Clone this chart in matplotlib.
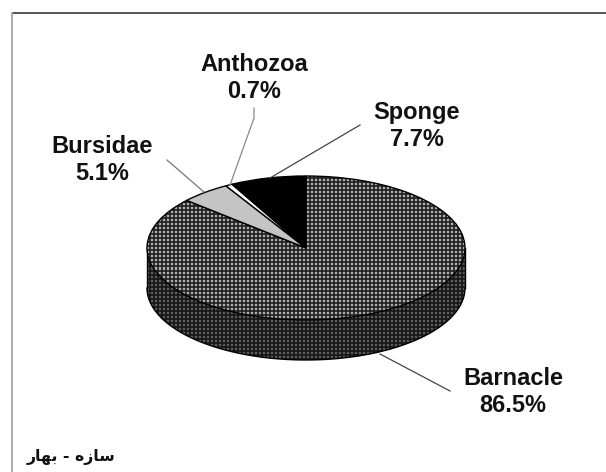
import matplotlib
matplotlib.use("Agg")
import matplotlib.pyplot as plt
from matplotlib.path import Path
from matplotlib.patches import PathPatch
import numpy as np

W, H = 606, 472

# Data
categories = ["Barnacle", "Bursidae", "Anthozoa", "Sponge"]
percents = [86.5, 5.1, 0.7, 7.7]
percent_labels = ["86.5%", "5.1%", "0.7%", "7.7%"]
# visual order presentation forms of the caption, matplotlib does no arabic shaping
caption = "\ufead\ufe8e\ufeec\ufe91 - \ufee9\ufeaf\ufe8e\ufeb3"

label_pos = [(513, 392), (102, 160), (254, 78), (417, 126)]
leaders = [
    ([380, 450], [354, 391], "#444444"),
    ([167, 204], [160, 192], "#777777"),
    ([254, 254, 230], [108, 118, 185], "#888888"),
    ([360, 270], [125, 178], "#444444"),
]

plt.rcParams["font.family"] = ["Liberation Sans", "DejaVu Sans"]
fig = plt.figure(figsize=(W / 100, H / 100), dpi=100, facecolor="white")


def px_axes(x0, y0, x1, y1):
    return fig.add_axes([x0 / W, 1 - y1 / H, (x1 - x0) / W, (y1 - y0) / H])


def dither(w, h, cell, line):
    # 4px weave like the old excel pattern fill
    tile = np.array([[cell, cell, line, line],
                     [cell, cell, line, line],
                     [line, line, line * 0.6, line * 0.6],
                     [line, line, line * 0.6, line * 0.6]])
    return np.tile(tile, (h // 4 + 1, w // 4 + 1))[:h, :w]


# Pie, x -1..1 is the disc width, y 1..-1 the top face, the rest is the side
cx, cy, rx, ry, depth = 306, 248, 159, 72, 40
left, right, top, bottom = cx - rx, cx + rx, cy - ry, cy + ry + depth
ax = px_axes(left, top, right, bottom)
drop = depth / ry
y_low = -1 - drop
extent = (-1, 1, y_low, 1)
w_px, h_px = right - left, bottom - top

# side of the disc
theta = np.linspace(np.pi, 2 * np.pi, 200)
side_x = np.cos(theta)
side_y = np.sin(theta) - drop
outline = np.vstack([[-1, 0], np.column_stack([side_x, side_y]), [1, 0], [-1, 0]])
side_patch = PathPatch(Path(outline), facecolor="none", edgecolor="none")
ax.add_patch(side_patch)
side_img = ax.imshow(dither(w_px, h_px, 0.36, 0.14), cmap="gray", vmin=0, vmax=1,
                     extent=extent, aspect="auto", interpolation="nearest", zorder=1)
side_img.set_clip_path(side_patch)
ax.plot(side_x, side_y, color="black", lw=1.0, zorder=2, clip_on=False)
ax.plot([-1, -1], [0, -drop], color="black", lw=1.0, zorder=2, clip_on=False)
ax.plot([1, 1], [0, -drop], color="black", lw=1.0, zorder=2, clip_on=False)

# top face
wedges, _ = ax.pie(percents, startangle=90, counterclock=False, radius=1,
                   colors=["none", "#c4c4c4", "white", "black"],
                   wedgeprops={"edgecolor": "black", "linewidth": 1.0, "zorder": 4})
top_img = ax.imshow(dither(w_px, h_px, 0.68, 0.22), cmap="gray", vmin=0, vmax=1,
                    extent=extent, aspect="auto", interpolation="nearest", zorder=3)
top_img.set_clip_path(wedges[0])
# pie and imshow reset the view and aspect
ax.set_aspect("auto")
ax.set_xlim(-1, 1)
ax.set_ylim(y_low, 1)
ax.axis("off")

# overlay in pixel coordinates for border, leaders and texts
over = px_axes(0, 0, W, H)
over.set_xlim(0, W)
over.set_ylim(H, 0)
over.axis("off")
over.plot([12, W], [13, 13], color="#555555", lw=1.4)
over.plot([12, 12], [13, H], color="#aaaaaa", lw=1.4)

for xs, ys, c in leaders:
    over.plot(xs, ys, color=c, lw=0.9)

for name, pct, (x, y) in zip(categories, percent_labels, label_pos):
    over.text(x, y, name + "\n" + pct, ha="center", va="center", fontsize=17,
              fontweight="bold", linespacing=1.2, color="#111111")

over.text(27, 457, caption, ha="left", va="center", fontsize=11.3, fontweight="bold",
          family=["DejaVu Sans"], color="#111111")

fig.savefig("out.png", dpi=100)
